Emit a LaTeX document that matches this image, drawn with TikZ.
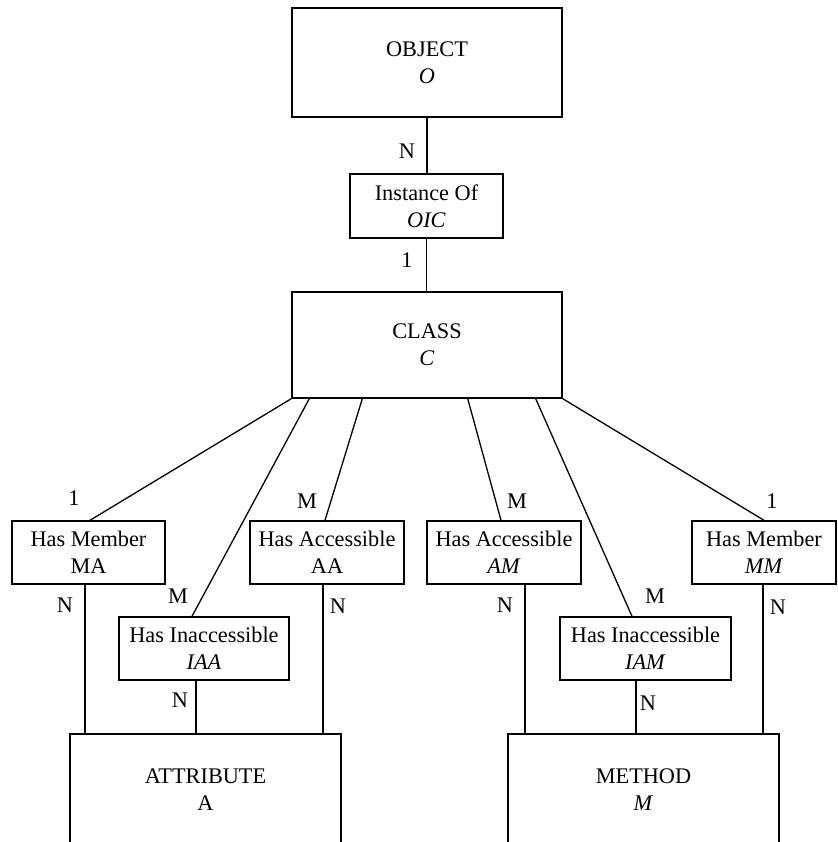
\documentclass[tikz,border=0pt]{standalone}
\usepackage{fontspec}
\setmainfont{Liberation Serif}
\begin{document}
\begin{tikzpicture}[x=1pt,y=-1pt,
  every node/.style={font=\fontsize{22.3}{27}\selectfont},
  entity/.style={draw,line width=1.4pt,rectangle,align=center,inner sep=0pt},
  relbox/.style={draw,line width=1.4pt,rectangle,align=center,inner sep=0pt,minimum height=63pt},
  card/.style={inner sep=0pt},
  link/.style={line width=1.3pt}]
\clip (0,0) rectangle (837,842);

% entities
\node[entity,minimum width=270pt,minimum height=109pt] (obj) at (427,62.5) {OBJECT\\\textit{O}};
\node[entity,minimum width=270pt,minimum height=106pt] (cls) at (427,345) {CLASS\\\textit{C}};
\node[entity,minimum width=271pt,minimum height=112pt] (attr) at (205.5,790) {ATTRIBUTE\\A};
\node[entity,minimum width=271pt,minimum height=112pt] (meth) at (643.5,790) {METHOD\\\textit{M}};

% relationships
\node[relbox,minimum width=153pt,minimum height=64pt] (inst) at (426.5,206) {Instance Of\\\textit{OIC}};
\node[relbox,minimum width=153pt] (ma) at (88.5,552.5) {Has Member\\MA};
\node[relbox,minimum width=154pt] (aa) at (327,552.5) {Has Accessible\\AA};
\node[relbox,minimum width=170pt] (iaa) at (204,648.5) {Has Inaccessible\\\textit{IAA}};
\node[relbox,minimum width=154pt] (am) at (504,552.5) {Has Accessible\\\textit{AM}};
\node[relbox,minimum width=171pt] (iam) at (645.5,648.5) {Has Inaccessible\\\textit{IAM}};
\node[relbox,minimum width=144pt] (mm) at (764,552.5) {Has Member\\\textit{MM}};

% connectors
\draw[link] (obj.south) -- (obj.south |- inst.north);
\draw[link] (inst.south) -- (inst.south |- cls.north);

\draw[link] (cls.south west) -- ([xshift=1.5pt]ma.north);
\draw[link] ([xshift=18pt]cls.south west) -- ([xshift=-12pt]iaa.north);
\draw[link] ([xshift=71pt]cls.south west) -- ([xshift=-2pt]aa.north);
\draw[link] ([xshift=-95pt]cls.south east) -- ([xshift=-3pt]am.north);
\draw[link] ([xshift=-27pt]cls.south east) -- ([xshift=-13.5pt]iam.north);
\draw[link] (cls.south east) -- (mm.north);

\draw[link] ([xshift=-3.5pt]ma.south) -- ([xshift=-3.5pt]ma.south |- attr.north);
\draw[link] ([xshift=-8pt]iaa.south) -- ([xshift=-8pt]iaa.south |- attr.north);
\draw[link] ([xshift=-4pt]aa.south) -- ([xshift=-4pt]aa.south |- attr.north);
\draw[link] ([xshift=21pt]am.south) -- ([xshift=21pt]am.south |- meth.north);
\draw[link] ([xshift=-9.5pt]iam.south) -- ([xshift=-9.5pt]iam.south |- meth.north);
\draw[link] ([xshift=-1pt]mm.south) -- ([xshift=-1pt]mm.south |- meth.north);

% cardinalities
\node[card] (c1) at (407,151) {N};
\node[card] (c2) at (407,260) {1};
\node[card] (c3) at (74,498) {1};
\node[card] (c4) at (307,501) {M};
\node[card] (c5) at (65,605) {N};
\node[card] (c6) at (178,596) {M};
\node[card] (c7) at (338,606) {N};
\node[card] (c8) at (180,700) {N};
\node[card] (c9) at (517,501) {M};
\node[card] (c10) at (772,501) {1};
\node[card] (c11) at (505,605) {N};
\node[card] (c12) at (655,596) {M};
\node[card] (c13) at (778,607) {N};
\node[card] (c14) at (648,703) {N};
\end{tikzpicture}
\end{document}
